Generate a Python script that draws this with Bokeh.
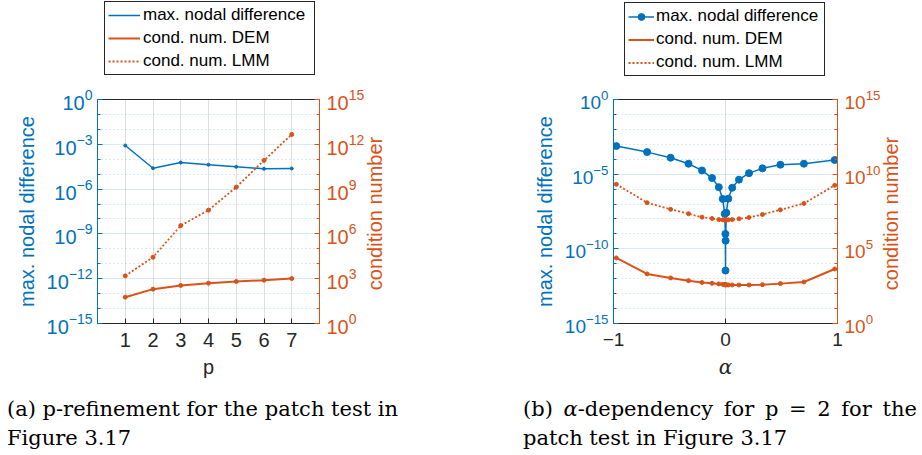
import math
from bokeh.plotting import figure
from bokeh.models import LogAxis, Range1d, LogScale, FixedTicker, Div, Legend, LegendItem
from bokeh.layouts import row, column
from bokeh.embed import file_html
from bokeh.resources import INLINE

BLUE = "#0072BD"
ORANGE = "#D95319"
DARK = "#262626"

# ---------------- data: (a) p-refinement ----------------
p_values = [1, 2, 3, 4, 5, 6, 7]
a_max_nodal_difference = [8.3e-4, 2.5e-5, 6.0e-5, 4.3e-5, 3.1e-5, 2.3e-5, 2.4e-5]
a_cond_dem = [58, 200, 355, 500, 650, 795, 1020]
a_cond_lmm = [1.55e3, 2.75e4, 3.6e6, 3.9e7, 1.35e9, 8.3e10, 4.6e12]

# ---------------- data: (b) alpha dependency ----------------
alpha_values = [-0.975, -0.70, -0.49, -0.33, -0.21, -0.12, -0.06, -0.025, -0.007, -0.001, 0.0,
                0.001, 0.007, 0.025, 0.06, 0.12, 0.21, 0.33, 0.49, 0.70, 0.975]
b_max_nodal_difference = [7.6e-4, 3.0e-4, 1.26e-4, 5.0e-5, 1.78e-5, 5.5e-6, 1.35e-6, 2.2e-7,
                          2.2e-8, 1.0e-9, 3.5e-12, 3.5e-10, 2.6e-8, 2.3e-7, 1.23e-6, 4.3e-6,
                          1.17e-5, 2.45e-5, 4.3e-5, 5.0e-5, 8.9e-5]
b_cond_dem = [2.45e4, 2090, 1120, 740, 560, 490, 447, 417, 398, 398, 398, 398, 389, 380,
              380, 380, 380, 398, 468, 603, 4470]
b_cond_lmm = [2.1e9, 1.23e8, 4.4e7, 2.24e7, 1.32e7, 1.07e7, 9.1e6, 8.7e6, 8.5e6, 8.5e6, 8.5e6,
              8.5e6, 8.5e6, 8.7e6, 9.1e6, 1.02e7, 1.26e7, 2.0e7, 4.1e7, 1.10e8, 1.78e9]

# ---------------- ticks and texts ----------------
a_x_ticks = [1, 2, 3, 4, 5, 6, 7]
b_x_ticks = [-1, 0, 1]
a_left_ticks = [1e0, 1e-3, 1e-6, 1e-9, 1e-12, 1e-15]
a_right_ticks = [1e0, 1e3, 1e6, 1e9, 1e12, 1e15]
b_left_ticks = [1e0, 1e-5, 1e-10, 1e-15]
b_right_ticks = [1e0, 1e5, 1e10, 1e15]
left_decades = [10.0 ** -k for k in range(16)]
right_decades = [10.0 ** k for k in range(16)]

legend_labels = ["max. nodal difference", "cond. num. DEM", "cond. num. LMM"]
left_label = "max. nodal difference"
right_label = "condition number"
caption_a = ["(a) p-refinement for the patch test in", "Figure 3.17"]
caption_b = ['(b) <i>\u03b1</i>-dependency for p = 2 for the', "patch test in Figure 3.17"]

SANS = "Liberation Sans"
SERIF = "DejaVu Serif"
W = 461
NAN = [float("nan")]


def minors(decades, majors):
    return [d for d in decades
            if min(abs(math.log10(d) - math.log10(t)) for t in majors) > 0.01]


def style_axis(ax, color, tick_size, label_size):
    ax.axis_line_color = color
    ax.axis_line_width = 1
    ax.major_tick_line_color = color
    ax.minor_tick_line_color = color
    ax.major_tick_in = 5
    ax.major_tick_out = 0
    ax.minor_tick_in = 3
    ax.minor_tick_out = 0
    ax.major_label_text_color = color
    ax.major_label_text_font = SANS
    ax.major_label_text_font_size = tick_size
    ax.axis_label_text_color = color
    ax.axis_label_text_font = SANS
    ax.axis_label_text_font_size = label_size
    ax.axis_label_text_font_style = "normal"


def add_series(f, x, blue, dem, lmm, blue_marker):
    r = {}
    r["bl"] = f.line(x, blue, color=BLUE, line_width=1.5)
    r["bm"] = f.scatter(x, blue, size=blue_marker, color=BLUE)
    r["dl"] = f.line(x, dem, color=ORANGE, line_width=2, y_range_name="cond")
    r["dm"] = f.scatter(x, dem, size=4, color=ORANGE, y_range_name="cond")
    r["ll"] = f.line(x, lmm, color=ORANGE, line_width=1.8, line_dash="2 2",
                     y_range_name="cond")
    r["lm"] = f.scatter(x, lmm, size=4, color=ORANGE, y_range_name="cond")
    return r


def make_panel(x, blue, dem, lmm, x_start, x_end, x_ticks, x_label, x_label_font,
               x_label_style, left_ticks, right_ticks, border_left, border_right,
               tick_size, blue_marker, legend_loc, legend_glyph_w, legend_glyph_h,
               legend_standoff, legend_label_w, legend_markers, caption, caption_x,
               caption_spacing):
    # ---- legend strip above the axes (its frame is aligned with the axes frame) ----
    lf = figure(width=W, height=80, output_backend="svg", toolbar_location=None,
                x_axis_type=None, y_axis_type=None, x_range=Range1d(0, 1),
                y_range=Range1d(0, 1), min_border=0)
    lf.outline_line_color = None
    lf.background_fill_color = "white"
    lf.border_fill_color = "white"
    lf.extra_y_ranges = {"cond": Range1d(0, 1)}
    r = add_series(lf, NAN, NAN, NAN, NAN, blue_marker)
    items = []
    for label, (ln, mk), show in zip(legend_labels, [("bl", "bm"), ("dl", "dm"), ("ll", "lm")],
                                      legend_markers):
        items.append(LegendItem(label=label, renderers=[r[ln], r[mk]] if show else [r[ln]]))
    lg = Legend(items=items, location=legend_loc)
    lg.border_line_color = DARK
    lg.border_line_width = 1
    lg.border_line_alpha = 1
    lg.background_fill_color = "white"
    lg.background_fill_alpha = 1
    lg.label_text_font = SANS
    lg.label_text_font_size = "17px"
    lg.label_text_color = "black"
    lg.glyph_width = legend_glyph_w
    lg.glyph_height = legend_glyph_h
    lg.label_height = legend_glyph_h
    lg.label_width = legend_label_w
    lg.label_standoff = legend_standoff
    lg.spacing = 3
    lg.padding = 3
    lg.margin = 0
    lf.add_layout(lg, "center")

    # ---- main axes ----
    p = figure(width=W, height=310, output_backend="svg", toolbar_location=None,
               x_range=Range1d(x_start, x_end), y_range=Range1d(1e-15, 1e0),
               y_axis_type="log", min_border_left=border_left,
               min_border_right=border_right, min_border_top=19, min_border_bottom=67)
    p.extra_y_ranges = {"cond": Range1d(1e0, 1e15)}
    p.extra_y_scales = {"cond": LogScale()}
    p.outline_line_color = DARK
    p.outline_line_alpha = 1
    p.background_fill_color = "white"
    p.border_fill_color = "white"

    xt = FixedTicker(ticks=x_ticks, minor_ticks=[])
    xa = p.xaxis[0]
    xa.ticker = xt
    p.xgrid[0].ticker = xt
    style_axis(xa, DARK, tick_size, "20px")
    xa.major_label_standoff = 9
    xa.axis_label = x_label
    xa.axis_label_text_font = x_label_font
    xa.axis_label_text_font_style = x_label_style
    xa.axis_label_standoff = 6

    yt = FixedTicker(ticks=left_ticks, minor_ticks=minors(left_decades, left_ticks))
    ya = p.yaxis[0]
    ya.ticker = yt
    p.ygrid[0].ticker = yt
    style_axis(ya, BLUE, tick_size, "20px")
    ya.axis_label = left_label
    ya.major_label_standoff = 5
    ya.axis_label_standoff = 6

    # right axis (label reading bottom-to-top, as MATLAB draws it)
    rt = FixedTicker(ticks=right_ticks, minor_ticks=minors(right_decades, right_ticks))
    ra = LogAxis(y_range_name="cond", ticker=rt)
    style_axis(ra, ORANGE, tick_size, "20px")
    ra.major_label_standoff = 7
    ra.axis_label_standoff = 8
    ra.axis_label_orientation = math.pi / 2
    ra.axis_label = "\u00a0" * 6 + right_label
    if "axis_label_align" in ra.properties():
        ra.axis_label_align = "start"
    p.add_layout(ra, "right")

    p.xgrid.grid_line_color = DARK
    p.xgrid.grid_line_alpha = 0.15
    p.ygrid.grid_line_color = BLUE
    p.ygrid.grid_line_alpha = 0.15
    p.ygrid.minor_grid_line_color = BLUE
    p.ygrid.minor_grid_line_alpha = 0.3
    p.ygrid.minor_grid_line_dash = "1 3"

    add_series(p, x, blue, dem, lmm, blue_marker)

    # ---- caption ----
    html = ('<span style="word-spacing:%dpx">%s</span><br>%s'
            % (caption_spacing, caption[0], caption[1]))
    cap = Div(text=html, width=W, height=65, margin=0,
              styles={"font-family": SERIF, "font-size": "21px", "line-height": "29px",
                      "color": "black", "padding-top": "5px",
                      "padding-left": "%dpx" % caption_x, "white-space": "nowrap"})
    return column(lf, p, cap)


pa = make_panel(p_values, a_max_nodal_difference, a_cond_dem, a_cond_lmm, 0, 8, a_x_ticks,
                "p", SANS, "normal", a_left_ticks, a_right_ticks, 97, 142, "20px", 3,
                (7, 5), 32, 18, 3, 168, [False, False, False], caption_a, 7, 0)
pb = make_panel(alpha_values, b_max_nodal_difference, b_cond_dem, b_cond_lmm, -1, 1,
                b_x_ticks, "\u03b1", SERIF, "italic", b_left_ticks, b_right_ticks, 152, 85,
                "19px", 7, (11, 4), 26, 17, 2, 165, [True, False, False], caption_b, 62, 4)

layout = row(pa, pb)
open("out.html", "w").write(file_html(layout, INLINE))
